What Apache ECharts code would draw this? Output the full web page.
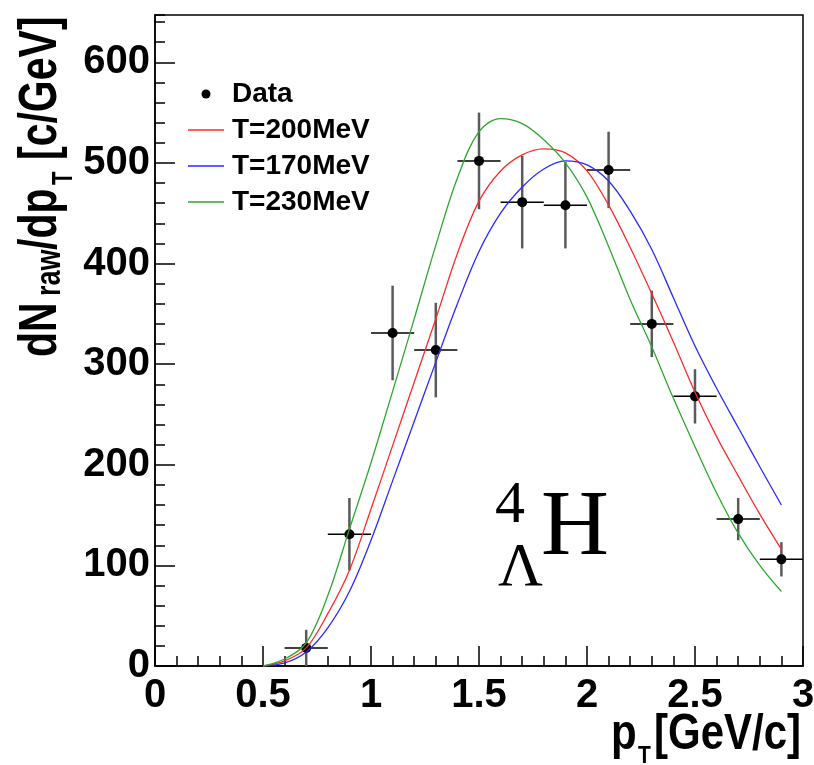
<!DOCTYPE html>
<html>
<head>
<meta charset="utf-8">
<script src="https://cdn.jsdelivr.net/npm/echarts@6/dist/echarts.min.js"></script>
<style>
  html, body { margin: 0; padding: 0; background: #fff; }
  #chart { width: 814px; height: 765px; }
</style>
</head>
<body>
<div id="chart"></div>
<script>
// ---------- data ----------
const dataPt   = [0.7, 0.9, 1.1, 1.3, 1.5, 1.7, 1.9, 2.1, 2.3, 2.5, 2.7, 2.9];
const dataY    = [18, 131, 331, 314, 502, 461, 458, 493, 340, 268, 146, 106];
const dataErrY = [18, 36, 47, 47, 48, 46, 43, 38, 33, 27, 21, 17];
const dataErrX = [0.1, 0.1, 0.1, 0.1, 0.1, 0.1, 0.1, 0.1, 0.1, 0.1, 0.1, 0.1];

const curvePt = [0.5, 0.6, 0.7, 0.8, 0.9, 1.0, 1.1, 1.2, 1.3, 1.4, 1.5, 1.6, 1.7,
                 1.8, 1.9, 2.0, 2.1, 2.2, 2.3, 2.4, 2.5, 2.6, 2.7, 2.8, 2.9];
const fitT200 = [0, 5, 18, 52, 95, 156, 219, 282, 345, 410, 462, 492, 508,
                 514, 510, 492, 458, 416, 370, 322, 272, 228, 189, 151, 116];
const fitT170 = [0, 3, 14, 38, 74, 125, 184, 243, 302, 360, 412, 450, 476,
                 494, 502, 498, 482, 452, 414, 366, 318, 276, 237, 198, 160];
const fitT230 = [0, 7, 23, 70, 136, 202, 273, 345, 418, 485, 531, 544, 539,
                 523, 500, 466, 417, 364, 317, 266, 218, 172, 132, 100, 74];

const seriesNames = ['Data', 'T=200MeV', 'T=170MeV', 'T=230MeV'];
const xTickLabels = ['0', '0.5', '1', '1.5', '2', '2.5', '3'];
const yTickLabels = ['0', '100', '200', '300', '400', '500', '600'];

// ---------- build ----------
const SANS = "'Liberation Sans', Arial, Helvetica, sans-serif";
const SERIF = "'Liberation Serif', 'Times New Roman', serif";
const pair = (xs, ys) => xs.map((x, i) => [x, ys[i]]);
const errData = dataPt.map((x, i) => [x, dataY[i], dataErrX[i], dataErrY[i]]);
const LINE_ICON = 'path://M0,0L36,0L36,1.4L0,1.4Z';

const chart = echarts.init(document.getElementById('chart'), null, { renderer: 'canvas' });

const K = 0.3465; // middle -> alphabetic baseline offset (em)
function txt(text, x, baseline, size, opts) {
  opts = opts || {};
  return {
    type: 'text',
    x: x,
    y: baseline - K * size,
    style: {
      text: text,
      fontSize: size,
      fontWeight: opts.weight || 'bold',
      fontFamily: opts.family || SANS,
      fill: '#000',
      align: 'left',
      verticalAlign: 'middle'
    }
  };
}

const option = {
  animation: false,
  backgroundColor: '#fff',
  grid: {
    left: 155, right: 11, top: 15, bottom: 99,
    show: true, borderColor: '#000', borderWidth: 1.5,
    outerBoundsMode: 'none'
  },
  legend: {
    orient: 'vertical',
    left: 188, top: 77,
    padding: 0,
    itemGap: 2,
    itemWidth: 36, itemHeight: 9,
    selectedMode: false,
    textStyle: {
      fontSize: 28, fontWeight: 'bold', fontFamily: SANS, color: '#000',
      lineHeight: 34, padding: [0, 0, 0, 3]
    },
    data: [
      { name: seriesNames[0], icon: 'circle' },
      { name: seriesNames[1], icon: LINE_ICON },
      { name: seriesNames[2], icon: LINE_ICON },
      { name: seriesNames[3], icon: LINE_ICON }
    ]
  },
  xAxis: [{
    type: 'value', min: 0, max: 3, interval: 0.5,
    axisLine: { show: true, lineStyle: { color: '#000', width: 1.5 } },
    axisTick: { show: true, inside: true, length: 20, lineStyle: { color: '#000', width: 1.5 } },
    minorTick: { show: true, splitNumber: 5, length: 10, lineStyle: { color: '#000', width: 1.5 } },
    splitLine: { show: false },
    minorSplitLine: { show: false },
    axisLabel: {
      show: true, margin: 10, color: '#000', fontSize: 40, fontWeight: 'bold', fontFamily: SANS,
      formatter: (v) => { const i = Math.round(v / 0.5); return xTickLabels[i] !== undefined ? xTickLabels[i] : ''; }
    }
  }],
  yAxis: [{
    type: 'value', min: 0, max: 647, interval: 100,
    axisLine: { show: true, lineStyle: { color: '#000', width: 1.5 } },
    axisTick: { show: true, inside: true, length: 20, lineStyle: { color: '#000', width: 1.5 } },
    splitLine: { show: false },
    axisLabel: {
      show: true, margin: 5, color: '#000', fontSize: 40, fontWeight: 'bold', fontFamily: SANS,
      showMaxLabel: false,
      formatter: (v) => { const i = Math.round(v / 100); return (Math.abs(v - i * 100) < 1e-6 && yTickLabels[i] !== undefined) ? yTickLabels[i] : ''; }
    }
  }, {
    type: 'value', min: 0, max: 647, interval: 20, position: 'left',
    axisLine: { show: false },
    axisTick: { show: true, inside: true, length: 10, lineStyle: { color: '#000', width: 1.5 } },
    splitLine: { show: false },
    axisLabel: { show: false }
  }],
  series: [
    {
      name: 'errors',
      type: 'custom',
      xAxisIndex: 0, yAxisIndex: 0,
      data: errData,
      z: 2,
      renderItem: function (params, api) {
        const x = api.value(0), y = api.value(1), ex = api.value(2), ey = api.value(3);
        const c = api.coord([x, y]);
        const l = api.coord([x - ex, y]);
        const r = api.coord([x + ex, y]);
        const t = api.coord([x, y + ey]);
        const b = api.coord([x, Math.max(0, y - ey)]);
        return {
          type: 'group',
          children: [
            { type: 'line', shape: { x1: c[0], y1: t[1], x2: c[0], y2: b[1] },
              style: { stroke: '#5a5a5a', lineWidth: 2.5 } },
            { type: 'line', shape: { x1: l[0], y1: c[1], x2: r[0], y2: c[1] },
              style: { stroke: '#000', lineWidth: 1.5 } }
          ]
        };
      }
    },
    {
      name: seriesNames[0],
      type: 'scatter',
      data: pair(dataPt, dataY),
      symbol: 'circle',
      symbolSize: 10,
      itemStyle: { color: '#000', opacity: 1 },
      z: 3
    },
    {
      name: seriesNames[1], type: 'line', data: pair(curvePt, fitT200),
      smooth: 0.35, symbol: 'none', z: 4,
      lineStyle: { color: '#ff2a2a', width: 1.3 }, itemStyle: { color: '#ff2a2a' }
    },
    {
      name: seriesNames[2], type: 'line', data: pair(curvePt, fitT170),
      smooth: 0.35, symbol: 'none', z: 4,
      lineStyle: { color: '#2a2aff', width: 1.3 }, itemStyle: { color: '#2a2aff' }
    },
    {
      name: seriesNames[3], type: 'line', data: pair(curvePt, fitT230),
      smooth: 0.35, symbol: 'none', z: 4,
      lineStyle: { color: '#2fa82f', width: 1.3 }, itemStyle: { color: '#2fa82f' }
    }
  ],
  graphic: [
    // y-axis title (rotated)
    {
      type: 'group',
      x: 60, y: 357,
      rotation: Math.PI / 2,
      scaleX: 1, scaleY: 1.3,
      children: [
        txt('dN', 0, 0, 41),
        txt('raw', 61, 2, 27),
        txt('/dp', 107, 0, 41),
        txt('T', 172, 11, 22),
        txt('[c/GeV]', 197, 0, 41)
      ]
    },
    // x-axis title
    {
      type: 'group',
      x: 613, y: 753,
      scaleX: 1, scaleY: 1.18,
      children: [
        txt('p', -2, 0, 42),
        txt('T', 25, 10, 21),
        txt('[GeV/c]', 41, 0, 42)
      ]
    },
    // hypertriton label
    txt('4', 495, 527, 60, { weight: 'normal', family: SERIF }),
    txt('\u039B', 498, 590, 62, { weight: 'normal', family: SERIF }),
    txt('H', 541, 562, 94, { weight: 'normal', family: SERIF })
  ]
};

chart.setOption(option);
</script>
</body>
</html>
